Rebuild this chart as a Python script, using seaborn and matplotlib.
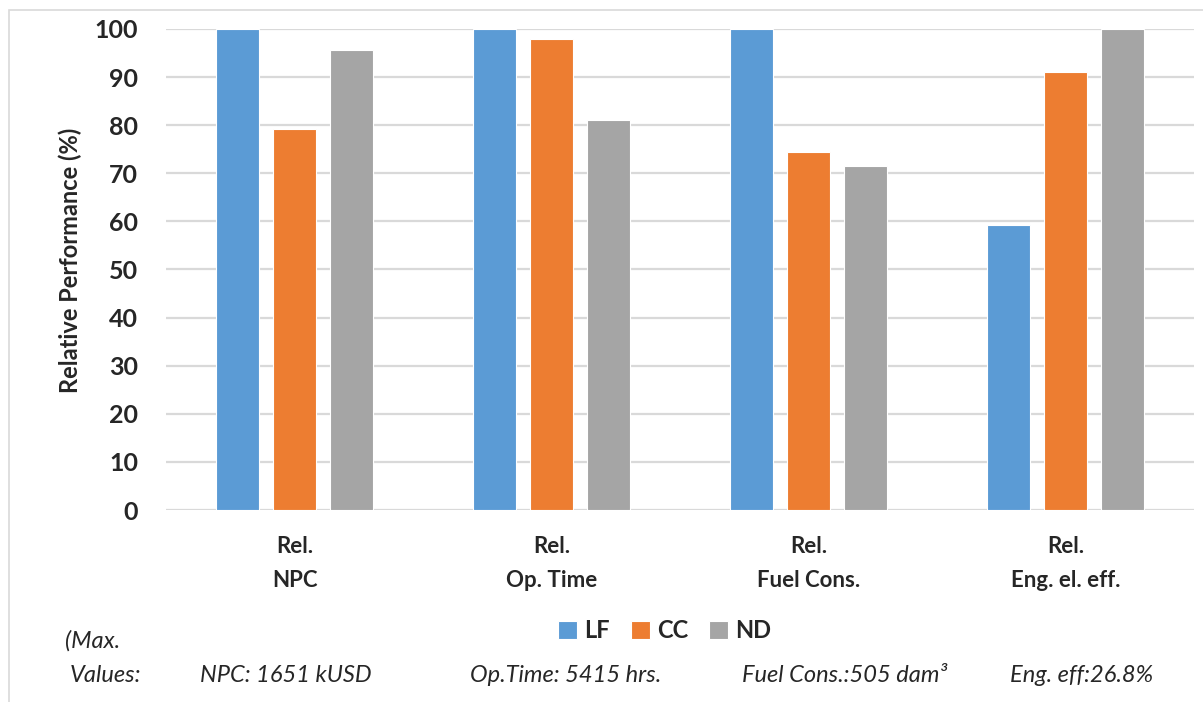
import matplotlib
matplotlib.use("Agg")
import matplotlib.pyplot as plt
from matplotlib.patches import Rectangle
import seaborn as sns
import pandas as pd

categories = ["Rel.\nNPC", "Rel.\nOp. Time", "Rel.\nFuel Cons.", "Rel.\nEng. el. eff."]
series = ["LF", "CC", "ND"]
lf_values = [100.0, 100.0, 100.0, 59.3]
cc_values = [79.3, 98.0, 74.5, 91.0]
nd_values = [95.6, 81.0, 71.6, 100.0]
max_value_notes = ["NPC: 1651 kUSD", "Op.Time: 5415 hrs.",
                   "Fuel Cons.:505 dam³", "Eng. eff:26.8%"]
colors = ["#5B9BD5", "#ED7D31", "#A5A5A5"]

rows = []
for name, vals in zip(series, [lf_values, cc_values, nd_values]):
    for cat, v in zip(categories, vals):
        rows.append({"Category": cat, "Series": name, "Value": v})
df = pd.DataFrame(rows)

sns.set_theme(style="white")
plt.rcParams["font.family"] = ["Lato", "DejaVu Sans"]

fig = plt.figure(figsize=(12.03, 7.02), dpi=100)
ax = fig.add_axes([0.138, 0.2735, 0.8545, 0.6852])

sns.barplot(data=df, x="Category", y="Value", hue="Series", order=categories,
            hue_order=series, palette=colors, width=0.665, gap=0.23,
            edgecolor="white", linewidth=0.8, saturation=1, ax=ax, legend=True)

ax.set_ylim(0, 100)
ax.set_xlim(-0.5, 3.5)
ax.set_yticks(range(0, 101, 10))
ax.yaxis.grid(True, color="#D9D9D9", linewidth=1.6)
ax.set_axisbelow(True)
for s in ax.spines.values():
    s.set_visible(False)
ax.tick_params(axis="both", length=0)
ax.tick_params(axis="y", labelsize=18, pad=20)
ax.tick_params(axis="x", labelsize=16, pad=19)
for lab in ax.get_yticklabels():
    lab.set_fontweight("bold")
for lab in ax.get_xticklabels():
    lab.set_fontweight("bold")
    lab.set_linespacing(1.75)
ax.set_xlabel("")
ax.set_ylabel("")
fig.text(70 / 1203, 1 - 260 / 702, "Relative Performance (%)", fontsize=17,
         fontweight="bold", rotation=90, ha="center", va="center")

leg = ax.legend(loc="center", bbox_to_anchor=(0.485, -0.25), ncol=3, frameon=False,
                handlelength=0.8, handleheight=0.8, handletextpad=0.3,
                columnspacing=0.9, prop={"size": 17, "weight": "bold"})

note_kw = dict(fontsize=17, style="italic", va="center", ha="left")
fig.text(65 / 1203, 1 - 641 / 702, "(Max.", **note_kw)
fig.text(70 / 1203, 1 - 675 / 702, "Values:", **note_kw)
for x, t in zip([200, 470, 742, 1010], max_value_notes):
    fig.text(x / 1203, 1 - 675 / 702, t, **note_kw)

fig.patches.append(Rectangle((9 / 1203, -0.1), 1.2, 1 - 10 / 702 + 0.1,
                             transform=fig.transFigure, fill=False,
                             edgecolor="#D9D9D9", linewidth=1.2))

fig.savefig("out.png", dpi=100, facecolor="white")
